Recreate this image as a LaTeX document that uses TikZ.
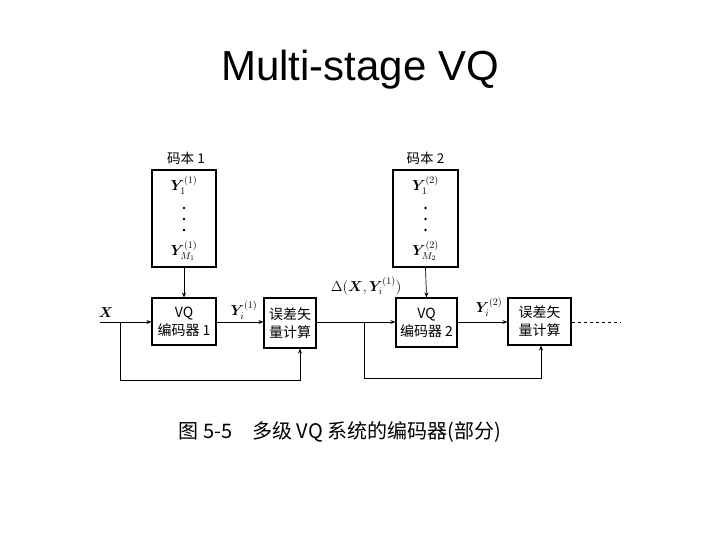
\documentclass[tikz,border=0pt]{standalone}
\usepackage{fontspec}
\usepackage{bm}
\setmainfont{Liberation Serif}
\newfontfamily\titlefont{Liberation Sans}
\newfontfamily\cjk{Noto Sans CJK SC}
\usetikzlibrary{arrows.meta}
\tikzset{
  blk/.style={draw, line width=1.1pt, minimum width=#1, inner sep=0pt, align=center},
  cn/.style={line width=0.7pt},
  ar/.style={cn, -{Stealth[length=5pt,width=4pt]}},
  lbl/.style={font=\fontsize{14}{15}\selectfont},
  cbl/.style={font=\cjk\fontsize{13.5}{14}\selectfont},
  btx/.style={font=\cjk\fontsize{14}{18}\selectfont}
}
\begin{document}
\begin{tikzpicture}[x=1pt,y=-1pt]
\useasboundingbox (0,0) rectangle (720,540);
\fill[white] (0,0) rectangle (720,540);
\node[font=\titlefont\fontsize{42}{46}\selectfont] (title) at (360,70) {Multi-stage VQ};
% codebooks
\node[blk=64pt, minimum height=97pt] (cb1) at (184,218.5) {};
\node[blk=65pt, minimum height=97pt] (cb2) at (425.5,218.5) {};
\node[cbl, anchor=south] (cb1l) at (186,168) {码本 1};
\node[cbl, anchor=south] (cb2l) at (425.5,168) {码本 2};
\node[lbl] (y11) at (184,185) {$\bm{Y}_1^{(1)}$};
\node[lbl] (ym1) at (184,251) {$\bm{Y}_{M_1}^{(1)}$};
\node[lbl] (y12) at (425.5,185) {$\bm{Y}_1^{(2)}$};
\node[lbl] (ym2) at (425.5,251) {$\bm{Y}_{M_2}^{(2)}$};
\foreach \yy in {208,219,230}{
  \fill (184,\yy) circle (1.3pt);
  \fill (425.5,\yy) circle (1.3pt);
}
% encoders and error boxes
\node[blk=64pt, minimum height=47pt, btx] (enc1) at (184,321.5) {VQ\\编码器 1};
\node[blk=52pt, minimum height=50pt, btx] (err1) at (290,323) {误差矢\\量计算};
\node[blk=61pt, minimum height=49pt, btx] (enc2) at (426.5,322.5) {VQ\\编码器 2};
\node[blk=63pt, minimum height=47pt, btx] (err2) at (539.5,321.5) {误差矢\\量计算};
% inputs / outputs
\coordinate (xin) at (100,322);
\coordinate (b1) at (120,322);
\coordinate (b2) at (364,322);
\coordinate (out) at (620,322);
\node[lbl] (xl) at (106,313) {$\bm{X}$};
\node[lbl] (yi1) at (244,310) {$\bm{Y}_i^{(1)}$};
\node[lbl] (dl) at (366,286) {$\Delta(\bm{X},\bm{Y}_i^{(1)})$};
\node[lbl] (yi2) at (489,307) {$\bm{Y}_i^{(2)}$};
% connectors
\draw[ar] (cb1.south) -- (enc1.north);
\draw[ar] (cb2.south) -- (enc2.north);
\draw[ar] (xin) -- (enc1.west |- xin);
\draw[ar] (enc1.east |- xin) -- (err1.west |- xin);
\draw[ar] (err1.east |- xin) -- (enc2.west |- xin);
\draw[ar] (enc2.east |- xin) -- (err2.west |- xin);
\draw[cn, dashed] (err2.east |- xin) -- (out);
\draw[ar] (b1) -- (120,380) -- (300,380) -- (300,0 |- err1.south);
\draw[ar] (b2) -- (364,378) -- (541,378) -- (541,0 |- err2.south);
% caption
\node[font=\cjk\fontsize{20}{22}\selectfont] (cap) at (340,432) {图 5-5\quad 多级 VQ 系统的编码器(部分)};
\end{tikzpicture}
\end{document}
